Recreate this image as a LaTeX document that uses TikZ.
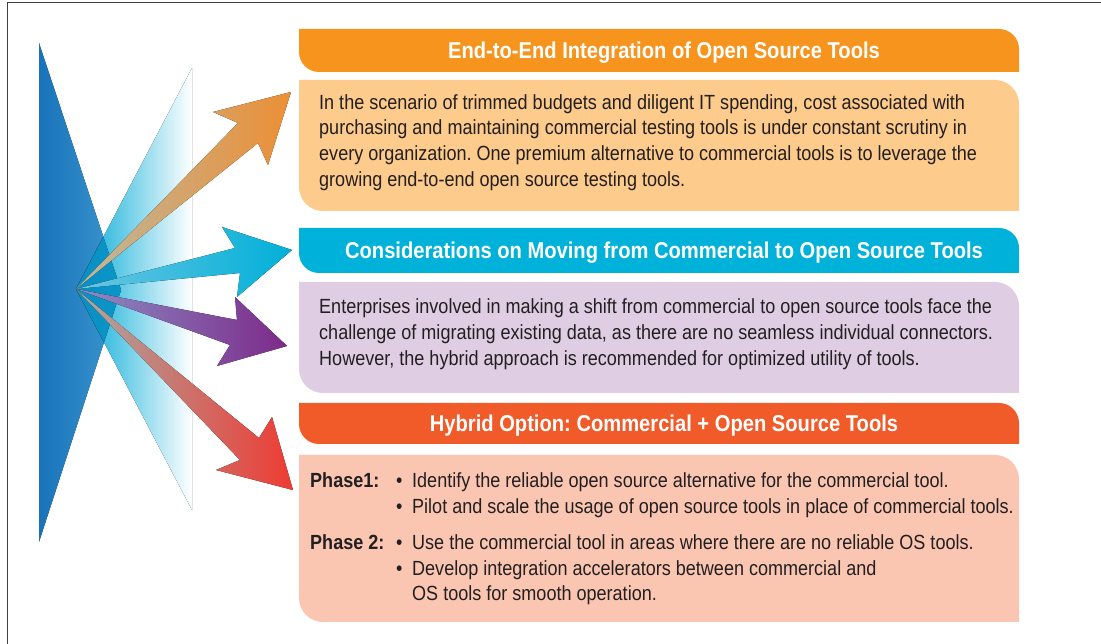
\documentclass[tikz,border=0pt]{standalone}
\usepackage{fontspec}
\setmainfont{Liberation Sans}[FakeStretch=0.88]
\definecolor{txt}{HTML}{231F20}
\definecolor{orH}{HTML}{F7941D}
\definecolor{orB}{HTML}{FDCB8C}
\definecolor{cyH}{HTML}{00B1DA}
\definecolor{lvB}{HTML}{DFCDE4}
\definecolor{rdH}{HTML}{F15A29}
\definecolor{rdB}{HTML}{FAC6B2}
\definecolor{blueL}{HTML}{1873BA}
\definecolor{blueR}{HTML}{3D97CF}
\definecolor{fanL}{HTML}{00A9D6}
\definecolor{fanM}{HTML}{62C7E5}
\definecolor{ovL}{HTML}{0A8EC2}
\definecolor{ovR}{HTML}{0AA3D2}
\definecolor{a1L}{HTML}{BDB89F}
\definecolor{a1M}{HTML}{F5BF87}
\definecolor{a1R}{HTML}{EC8F35}
\definecolor{a2L}{HTML}{6CC6E3}
\definecolor{a2M}{HTML}{8FD3EC}
\definecolor{a2R}{HTML}{00B0D8}
\definecolor{a3L}{HTML}{8A8EC4}
\definecolor{a3M}{HTML}{C49BC9}
\definecolor{a3R}{HTML}{7D2A8A}
\definecolor{a4L}{HTML}{A9AAA4}
\definecolor{a4M}{HTML}{F6A58A}
\definecolor{a4R}{HTML}{EE3B33}
\newcommand\bul{\makebox[16pt][l]{•}}
\frenchspacing
\begin{document}
\begin{tikzpicture}[x=1pt,y=1pt,
  cbox/.style n args={2}{shape=rectangle, inner sep=0pt, minimum width=720pt,
    path picture={\fill[#1] (path picture bounding box.north west)
      -- ([xshift=-#2]path picture bounding box.north east)
      arc[start angle=90,end angle=0,radius=#2]
      -- (path picture bounding box.south east)
      -- ([xshift=#2]path picture bounding box.south west)
      arc[start angle=270,end angle=180,radius=#2] -- cycle;}},
  hdrtext/.style={anchor=base, text=white, inner sep=0pt,
    font=\fontsize{22.9}{27}\selectfont\bfseries},
  bodytext/.style={anchor=base west, text=txt, inner sep=0pt,
    font=\fontsize{20.5}{25.7}\selectfont},
  arrowshape/.style n args={3}{left color=#1, middle color=#2, right color=#3},
]
\useasboundingbox (0,0) rectangle (1101,644);
% frame
\draw[line width=1pt, color=black!75] (7,-2) -- (7,641) -- (1103,641);

% boxes
\node[cbox={orH}{20pt}, minimum height=43pt] (h1) at (659,593.5) {};
\node[cbox={orB}{24pt}, minimum height=131pt] (b1) at (659,498.5) {};
\node[cbox={cyH}{20pt}, minimum height=45pt] (h2) at (659,393.5) {};
\node[cbox={lvB}{24pt}, minimum height=111pt] (b2) at (659,306.5) {};
\node[cbox={rdH}{20pt}, minimum height=41pt] (h3) at (659,220.5) {};
\node[cbox={rdB}{24pt}, minimum height=167pt] (b3) at (659,105.5) {};

% header texts
\node[hdrtext] (t1) at (664,585.5) {End-to-End Integration of Open Source Tools};
\node[hdrtext] (t2) at (664,385.5) {Considerations on Moving from Commercial to Open Source Tools};
\node[hdrtext] (t3) at (664,212.5) {Hybrid Option: Commercial + Open Source Tools};

% body texts
\node[bodytext] (p1) at (319,534.7) {\begin{tabular}[t]{@{}l@{}}
In the scenario of trimmed budgets and diligent IT spending, cost associated with\\
purchasing and maintaining commercial testing tools is under constant scrutiny in\\
every organization. One premium alternative to commercial tools is to leverage the\\
growing end-to-end open source testing tools.\end{tabular}};
\node[bodytext] (p2) at (319,330) {\begin{tabular}[t]{@{}l@{}}
Enterprises involved in making a shift from commercial to open source tools face the\\
challenge of migrating existing data, as there are no seamless individual connectors.\\
However, the hybrid approach is recommended for optimized utility of tools.\end{tabular}};
\node[bodytext] (p3) at (310,156) {\begin{tabular}[t]{@{}p{86pt}@{}l@{}}
\textbf{Phase1:} & \bul Identify the reliable open source alternative for the commercial tool.\\
 & \bul Pilot and scale the usage of open source tools in place of commercial tools.\\[10pt]
\textbf{Phase 2:} & \bul Use the commercial tool in areas where there are no reliable OS tools.\\
 & \bul Develop integration accelerators between commercial and\\
 & \hspace{16pt}OS tools for smooth operation.\end{tabular}};

% left graphic
\coordinate (hub) at (76,355);
\fill[left color=blueL, right color=blueR] (39,601) -- (121,354) -- (39,102) -- cycle;
\fill[left color=fanL, middle color=fanM, right color=white] (hub) -- (192,576) -- (192,134) -- cycle;
\begin{scope}
  \clip (39,601) -- (121,354) -- (39,102) -- cycle;
  \fill[left color=ovL, right color=ovR] (hub) -- (192,576) -- (192,134) -- cycle;
\end{scope}

% arrows
\fill[arrowshape={a1L}{a1M}{a1R}]
  (hub) -- (238,521) -- (213,532) -- (291,552) -- (268,479) -- (258,501) -- cycle;
\fill[arrowshape={a2L}{a2M}{a2R}]
  (hub) -- (235,396) -- (222,417) -- (292,394) -- (237,347) -- (240,371) -- cycle;
\fill[arrowshape={a3L}{a3M}{a3R}]
  (hub) -- (237,324) -- (235,347) -- (287,298) -- (217,278) -- (230,299) -- cycle;
\fill[arrowshape={a4L}{a4M}{a4R}]
  (hub) -- (259,206) -- (272,227) -- (293,154) -- (216,174) -- (240,184) -- cycle;
\end{tikzpicture}
\end{document}
